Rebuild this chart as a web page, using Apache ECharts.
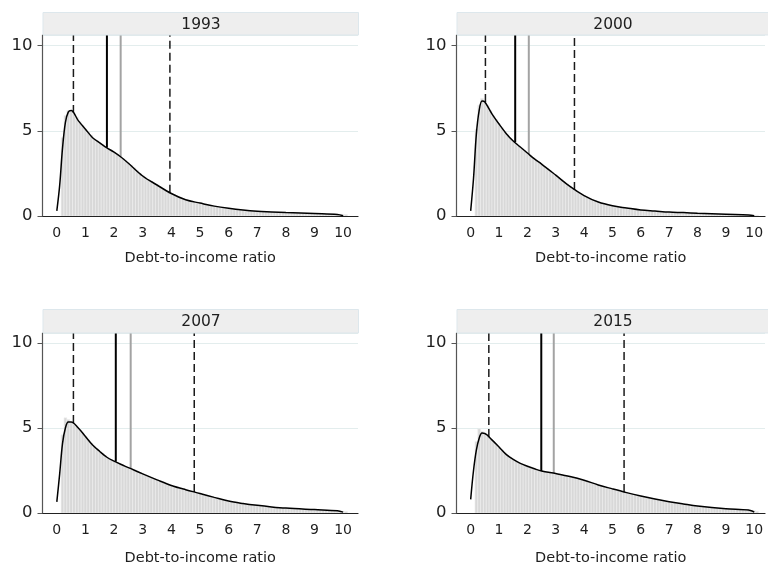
<!DOCTYPE html>
<html>
<head>
<meta charset="utf-8">
<script src="https://cdn.jsdelivr.net/npm/echarts@6/dist/echarts.min.js"></script>
<style>
  html, body { margin: 0; padding: 0; background: #ffffff; }
  #chart { width: 768px; height: 567px; }
</style>
</head>
<body>
<div id="chart"></div>
<script>
// Distribution of household debt-to-income ratios, four survey years.
const years = ['1993', '2000', '2007', '2015'];
const axisTitle = 'Debt-to-income ratio';
const xTickLabels = [0, 1, 2, 3, 4, 5, 6, 7, 8, 9, 10];
const yTickLabels = [0, 5, 10];

// Histogram bins: width 0.1, first bin centred on 0.2, last on 10.1 (density, per cent)
const binFirstCentre = 0.2;
const binWidth = 0.1;
const hist1993 = [
  4.6, 5.9, 6.2, 6.2, 6.0, 5.8, 5.55, 5.3, 5.1, 4.95,
  4.75, 4.55, 4.42, 4.3, 4.2, 4.08, 3.97, 3.87, 3.76, 3.64,
  3.5, 3.38, 3.25, 3.12, 2.98, 2.83, 2.68, 2.52, 2.37, 2.25,
  2.12, 2.02, 1.92, 1.82, 1.7, 1.6, 1.5, 1.4, 1.31, 1.23,
  1.16, 1.08, 1.01, 0.96, 0.91, 0.86, 0.82, 0.78, 0.75, 0.71,
  0.68, 0.64, 0.61, 0.58, 0.55, 0.52, 0.5, 0.47, 0.45, 0.43,
  0.41, 0.39, 0.37, 0.35, 0.33, 0.32, 0.3, 0.29, 0.28, 0.27,
  0.26, 0.25, 0.24, 0.24, 0.23, 0.22, 0.21, 0.21, 0.2, 0.19,
  0.19, 0.18, 0.18, 0.17, 0.17, 0.16, 0.15, 0.15, 0.14, 0.14,
  0.13, 0.13, 0.12, 0.12, 0.11, 0.11, 0.1, 0.1, 0.09, 0.08
];
const hist2000 = [
  5.1, 6.5, 6.9, 6.75, 6.5, 6.2, 5.9, 5.65, 5.4, 5.18,
  4.96, 4.76, 4.58, 4.4, 4.26, 4.12, 3.98, 3.84, 3.7, 3.56,
  3.42, 3.29, 3.17, 3.05, 2.92, 2.79, 2.66, 2.53, 2.4, 2.27,
  2.14, 2.0, 1.87, 1.74, 1.62, 1.5, 1.4, 1.3, 1.2, 1.12,
  1.04, 0.96, 0.89, 0.82, 0.77, 0.72, 0.67, 0.63, 0.6, 0.57,
  0.54, 0.51, 0.49, 0.47, 0.45, 0.42, 0.4, 0.37, 0.35, 0.34,
  0.32, 0.31, 0.3, 0.29, 0.28, 0.27, 0.25, 0.24, 0.23, 0.22,
  0.22, 0.21, 0.2, 0.2, 0.19, 0.18, 0.18, 0.17, 0.16, 0.16,
  0.15, 0.14, 0.14, 0.13, 0.13, 0.12, 0.11, 0.11, 0.1, 0.1,
  0.09, 0.09, 0.08, 0.08, 0.07, 0.07, 0.06, 0.06, 0.05, 0.04
];
const hist2007 = [
  4.6, 5.6, 5.5, 5.35, 5.2, 5.08, 4.9, 4.7, 4.5, 4.3,
  4.1, 3.93, 3.78, 3.64, 3.5, 3.37, 3.25, 3.14, 3.05, 2.97,
  2.89, 2.81, 2.74, 2.67, 2.6, 2.53, 2.45, 2.38, 2.3, 2.23,
  2.16, 2.09, 2.02, 1.95, 1.88, 1.81, 1.75, 1.68, 1.62, 1.57,
  1.52, 1.47, 1.42, 1.37, 1.32, 1.28, 1.24, 1.2, 1.15, 1.1,
  1.06, 1.01, 0.97, 0.92, 0.88, 0.83, 0.79, 0.75, 0.71, 0.68,
  0.65, 0.62, 0.59, 0.56, 0.54, 0.51, 0.49, 0.47, 0.45, 0.43,
  0.41, 0.39, 0.38, 0.36, 0.35, 0.33, 0.32, 0.3, 0.29, 0.28,
  0.27, 0.26, 0.25, 0.24, 0.24, 0.23, 0.22, 0.21, 0.2, 0.19,
  0.18, 0.17, 0.17, 0.16, 0.15, 0.14, 0.13, 0.12, 0.1, 0.08
];
const hist2015 = [
  4.2, 4.95, 4.8, 4.65, 4.5, 4.36, 4.2, 4.05, 3.88, 3.7,
  3.54, 3.4, 3.27, 3.16, 3.06, 2.97, 2.89, 2.82, 2.75, 2.69,
  2.63, 2.57, 2.52, 2.47, 2.44, 2.41, 2.38, 2.35, 2.32, 2.29,
  2.26, 2.22, 2.19, 2.15, 2.11, 2.07, 2.03, 1.98, 1.93, 1.88,
  1.82, 1.76, 1.7, 1.65, 1.6, 1.55, 1.5, 1.46, 1.42, 1.37,
  1.33, 1.28, 1.24, 1.2, 1.16, 1.12, 1.08, 1.04, 1.0, 0.96,
  0.92, 0.89, 0.85, 0.82, 0.79, 0.75, 0.72, 0.69, 0.66, 0.63,
  0.61, 0.58, 0.55, 0.53, 0.51, 0.48, 0.46, 0.43, 0.41, 0.39,
  0.37, 0.35, 0.34, 0.32, 0.31, 0.29, 0.28, 0.26, 0.25, 0.24,
  0.23, 0.22, 0.21, 0.2, 0.19, 0.18, 0.17, 0.16, 0.14, 0.1
];

// Kernel density estimate, sampled at these ratios
const kdeX = [0, 0.1, 0.2, 0.3, 0.4, 0.5, 0.75, 1, 1.25, 1.5, 1.75, 2, 2.25, 2.5,
              3, 3.5, 4, 4.5, 5, 5.5, 6, 6.5, 7, 7.5, 8, 9, 9.8, 10];
const kde1993 = [0.3, 1.8, 4.0, 5.5, 6.1, 6.2, 5.6, 5.1, 4.6, 4.3, 4.0, 3.75, 3.45, 3.1,
                 2.35, 1.82, 1.32, 0.95, 0.76, 0.58, 0.45, 0.35, 0.28, 0.24, 0.2, 0.14, 0.09, 0.02];
const kde2000 = [0.3, 2.2, 4.8, 6.2, 6.75, 6.7, 6.0, 5.4, 4.85, 4.4, 4.05, 3.7, 3.35, 3.05,
                 2.4, 1.74, 1.2, 0.82, 0.6, 0.47, 0.35, 0.29, 0.23, 0.2, 0.16, 0.1, 0.06, 0.02];
const kde2007 = [0.65, 2.3, 4.1, 5.0, 5.35, 5.35, 5.0, 4.5, 4.0, 3.62, 3.28, 3.05, 2.85, 2.67,
                 2.3, 1.95, 1.62, 1.37, 1.15, 0.92, 0.7, 0.56, 0.45, 0.36, 0.29, 0.2, 0.13, 0.05];
const kde2015 = [0.8, 2.5, 3.7, 4.4, 4.7, 4.68, 4.3, 3.88, 3.45, 3.15, 2.92, 2.75, 2.6, 2.47,
                 2.32, 2.15, 1.93, 1.65, 1.42, 1.2, 1.0, 0.82, 0.66, 0.53, 0.41, 0.25, 0.17, 0.06];

// Reference lines per year: [ratio, density where the line meets the curve]
const lowerDecile = [[0.58, 6.05], [0.52, 6.7], [0.58, 5.3], [0.64, 4.47]];
const medianLine  = [[1.75, 4.02], [1.57, 4.33], [2.06, 3.02], [2.49, 2.47]];
const meanLine    = [[2.23, 3.49], [2.05, 3.63], [2.58, 2.6], [2.93, 2.35]];
const upperDecile = [[3.95, 1.37], [3.66, 1.53], [4.8, 1.24], [5.41, 1.24]];

const histograms = [hist1993, hist2000, hist2007, hist2015];
const densities = [kde1993, kde2000, kde2007, kde2015];

// ---- layout ----
const FONT = '"DejaVu Sans", sans-serif';
const INK = '#1e1e1e';
const X_MIN = -0.5;
const panels = [
  { left: 42.5, top: 35, width: 315.5, height: 181, stripTop: 12, xMax: 10.52, yMax: 10.63, nameGap: 35 },
  { left: 456.5, top: 35, width: 311.5, height: 181, stripTop: 12, xMax: 10.38, yMax: 10.63, nameGap: 35 },
  { left: 42.5, top: 333, width: 315.5, height: 180, stripTop: 309, xMax: 10.52, yMax: 10.59, nameGap: 38 },
  { left: 456.5, top: 333, width: 311.5, height: 180, stripTop: 309, xMax: 10.38, yMax: 10.59, nameGap: 38 }
];

const grids = [], xAxes = [], yAxes = [], series = [], graphics = [];

panels.forEach(function (p, i) {
  grids.push({ left: p.left, top: p.top, width: p.width, height: p.height, containLabel: false });

  xAxes.push({
    type: 'value', gridIndex: i, min: X_MIN, max: p.xMax, interval: 0.5,
    name: axisTitle, nameLocation: 'middle', nameGap: p.nameGap,
    nameTextStyle: { fontFamily: FONT, fontSize: 14.5, color: INK },
    axisLine: { show: true, onZero: false, lineStyle: { color: '#222', width: 1.2 } },
    axisTick: { show: false },
    splitLine: { show: false },
    axisLabel: {
      fontFamily: FONT, fontSize: 14, color: INK, margin: 10,
      formatter: function (v) { return xTickLabels.indexOf(v) >= 0 ? String(v) : ''; }
    }
  });

  yAxes.push({
    type: 'value', gridIndex: i, min: 0, max: p.yMax, interval: 5,
    axisLine: { show: true, onZero: false, lineStyle: { color: '#555', width: 1.2 } },
    axisTick: { show: true, length: 5, lineStyle: { color: '#555' } },
    splitLine: { show: true, lineStyle: { color: '#e3eded', width: 1 } },
    axisLabel: {
      fontFamily: FONT, fontSize: 16.5, color: INK, margin: 10, showMaxLabel: false,
      formatter: function (v) { return yTickLabels.indexOf(v) >= 0 ? String(v) : ''; }
    }
  });

  // histogram bars
  series.push({
    type: 'custom', xAxisIndex: i, yAxisIndex: i, clip: true, z: 1,
    data: histograms[i].map(function (v, k) { return [binFirstCentre + k * binWidth, v]; }),
    encode: { x: 0, y: 1 },
    renderItem: function (params, api) {
      const c = api.value(0), v = api.value(1);
      const a = api.coord([c - binWidth / 2, v]);
      const b = api.coord([c + binWidth / 2, 0]);
      return {
        type: 'rect',
        shape: { x: a[0], y: a[1], width: b[0] - a[0], height: b[1] - a[1] },
        style: { fill: '#d8d8d8', stroke: '#eeeeee', lineWidth: 0.6 }
      };
    }
  });

  // vertical reference lines, drawn from the top of the panel down to the density
  const vline = function (pt, color, width, type) {
    return {
      type: 'line', xAxisIndex: i, yAxisIndex: i, z: 2, silent: true,
      symbol: 'none', animation: false,
      data: [[pt[0], pt[1]], [pt[0], p.yMax]],
      lineStyle: { color: color, width: width, type: type }
    };
  };
  series.push(vline(lowerDecile[i], '#1a1a1a', 1.5, [8, 4]));
  series.push(vline(upperDecile[i], '#1a1a1a', 1.5, [8, 4]));
  series.push(vline(meanLine[i], '#a3a3a3', 2, 'solid'));
  series.push(vline(medianLine[i], '#000000', 2, 'solid'));

  // density curve
  series.push({
    type: 'line', xAxisIndex: i, yAxisIndex: i, z: 3, silent: true,
    symbol: 'none', smooth: 0.35, animation: false,
    data: kdeX.map(function (x, k) { return [x, densities[i][k]]; }),
    lineStyle: { color: '#000', width: 1.5 }
  });

  // year strip above each panel
  graphics.push({
    type: 'rect', z: 10,
    shape: { x: p.left + 0.5, y: p.stripTop + 0.5, width: p.width, height: p.top - p.stripTop - 0.5 },
    style: { fill: '#eeeeee', stroke: '#dde7ec', lineWidth: 1 }
  });
  graphics.push({
    type: 'text', z: 11,
    x: i % 2 === 0 ? 201 : 613,
    y: (p.stripTop + p.top) / 2 + 1,
    style: {
      text: years[i], fontFamily: FONT, fontSize: 15.5, fill: INK,
      align: 'center', verticalAlign: 'middle'
    }
  });
});

const chart = echarts.init(document.getElementById('chart'), null, { renderer: 'canvas' });
chart.setOption({
  animation: false,
  backgroundColor: '#ffffff',
  grid: grids,
  xAxis: xAxes,
  yAxis: yAxes,
  series: series,
  graphic: graphics
});
</script>
</body>
</html>
